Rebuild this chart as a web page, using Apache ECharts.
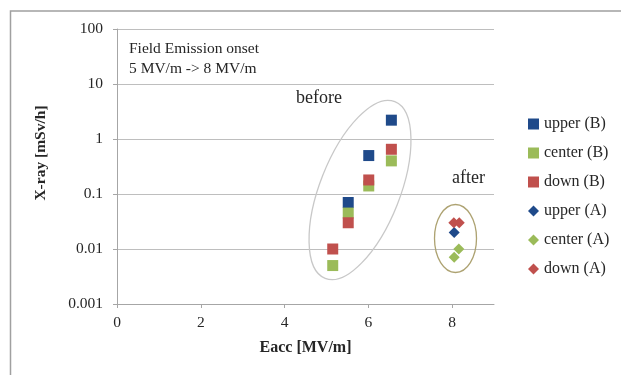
<!DOCTYPE html>
<html>
<head>
<meta charset="utf-8">
<script src="https://cdn.jsdelivr.net/npm/echarts@6/dist/echarts.min.js"></script>
<style>
  html, body { margin: 0; padding: 0; background: #fff; }
  #chart { width: 621px; height: 375px; }
</style>
</head>
<body>
<div id="chart"></div>
<script>
// data: [Eacc MV/m, X-ray mSv/h]
const upperB = [[5.52, 0.07], [6.01, 0.5], [6.55, 2.2]];
const centerB = [[5.15, 0.005], [5.52, 0.045], [6.01, 0.14], [6.55, 0.4]];
const downB = [[5.15, 0.01], [5.52, 0.03], [6.01, 0.18], [6.55, 0.65]];
const upperA = [[8.05, 0.02]];
const centerA = [[8.05, 0.0071], [8.16, 0.01]];
const downA = [[8.04, 0.03], [8.17, 0.03]];

const xTicks = [0, 2, 4, 6, 8];
const yTicks = [0.001, 0.01, 0.1, 1, 10, 100];

const BLUE = '#1F4A8A';
const GREEN = '#9BBB59';
const RED = '#C0504D';
const FONT = '"Liberation Serif", "DejaVu Serif", serif';

const chart = echarts.init(document.getElementById('chart'));

function sq(name, data, color) {
  return {
    name: name,
    type: 'scatter',
    symbol: 'rect',
    symbolSize: 11,
    itemStyle: { color: color, opacity: 1 },
    data: data,
  };
}
function dia(name, data, color) {
  return {
    name: name,
    type: 'scatter',
    symbol: 'diamond',
    symbolSize: 11,
    itemStyle: { color: color, opacity: 1 },
    data: data,
  };
}

chart.setOption({
  backgroundColor: '#fff',
  animation: false,
  grid: { left: 117, right: 127, top: 29, bottom: 71 },
  legend: {
    orient: 'vertical',
    left: 523,
    top: 111,
    itemWidth: 11,
    itemHeight: 11,
    itemGap: 13,
    textStyle: { fontFamily: FONT, fontSize: 16, color: '#262626' },
    data: [
      { name: 'upper (B)', icon: 'rect' },
      { name: 'center (B)', icon: 'rect' },
      { name: 'down (B)', icon: 'rect' },
      { name: 'upper (A)', icon: 'diamond' },
      { name: 'center (A)', icon: 'diamond' },
      { name: 'down (A)', icon: 'diamond' },
    ],
  },
  xAxis: {
    type: 'value',
    min: 0,
    max: 9,
    interval: 2,
    name: 'Eacc [MV/m]',
    nameLocation: 'middle',
    nameGap: 36,
    nameTextStyle: { fontFamily: FONT, fontSize: 16, fontWeight: 'bold', color: '#262626' },
    axisLine: { lineStyle: { color: '#A6A6A6' } },
    axisTick: { show: true, length: 4, lineStyle: { color: '#A6A6A6' } },
    axisLabel: {
      fontFamily: FONT, fontSize: 15.5, color: '#262626', margin: 11,
      showMaxLabel: false,
      formatter: (v) => (xTicks.includes(v) ? String(v) : ''),
    },
    splitLine: { show: false },
  },
  yAxis: {
    type: 'log',
    logBase: 10,
    min: 0.001,
    max: 100,
    axisLine: { show: true, lineStyle: { color: '#A6A6A6' } },
    axisTick: { show: true, length: 4, lineStyle: { color: '#A6A6A6' } },
    axisLabel: {
      fontFamily: FONT, fontSize: 15.5, color: '#262626', margin: 14,
      formatter: (v) => {
        const t = yTicks.find((k) => Math.abs(Math.log10(k) - Math.log10(v)) < 1e-6);
        return t === undefined ? '' : String(t);
      },
    },
    splitLine: { show: true, lineStyle: { color: '#BEBEBE' } },
  },
  graphic: [
    {
      type: 'rect', silent: true, z: -1,
      shape: { x: 10.5, y: 11, width: 800, height: 600 },
      style: { fill: null, stroke: '#A0A0A0', lineWidth: 1.5 },
    },
    {
      type: 'text', silent: true,
      x: 41, y: 153, rotation: Math.PI / 2,
      style: {
        text: 'X-ray [mSv/h]', x: 0, y: 0, align: 'center', verticalAlign: 'middle',
        font: 'bold 15.5px ' + FONT, fill: '#262626',
      },
    },
    {
      type: 'text', silent: true, x: 129, y: 39,
      style: {
        text: 'Field Emission onset\n5 MV/m -> 8 MV/m', lineHeight: 20,
        font: '15.5px ' + FONT, fill: '#262626',
      },
    },
    {
      type: 'text', silent: true, x: 296, y: 89,
      style: { text: 'before', font: '18px ' + FONT, fill: '#262626' },
    },
    {
      type: 'text', silent: true, x: 452, y: 169,
      style: { text: 'after', font: '18px ' + FONT, fill: '#262626' },
    },
    {
      type: 'ellipse', silent: true, z: 1,
      x: 360, y: 190, rotation: -21.5 * Math.PI / 180,
      shape: { cx: 0, cy: 0, rx: 40, ry: 95 },
      style: { fill: null, stroke: '#C8C8C8', lineWidth: 1.3 },
    },
    {
      type: 'ellipse', silent: true, z: 1,
      x: 455.5, y: 238.5,
      shape: { cx: 0, cy: 0, rx: 21, ry: 34 },
      style: { fill: null, stroke: '#ADA271', lineWidth: 1.3 },
    },
  ],
  series: [
    sq('upper (B)', upperB, BLUE),
    sq('center (B)', centerB, GREEN),
    sq('down (B)', downB, RED),
    dia('upper (A)', upperA, BLUE),
    dia('center (A)', centerA, GREEN),
    dia('down (A)', downA, RED),
  ],
});
</script>
</body>
</html>
